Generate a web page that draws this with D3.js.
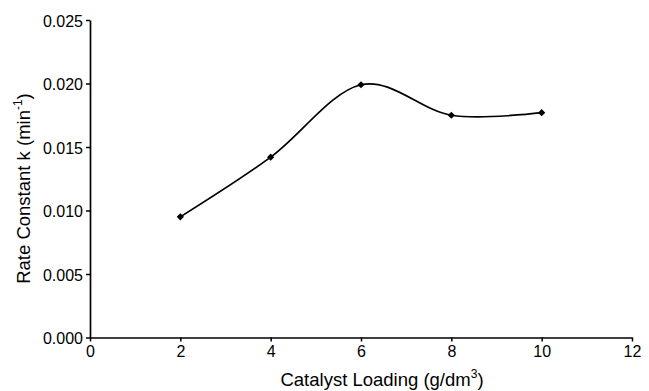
<!DOCTYPE html>
<html>
<head>
<meta charset="utf-8">
<script src="https://cdn.jsdelivr.net/npm/d3@7/dist/d3.min.js"></script>
<style>
  html, body { margin: 0; padding: 0; background: #fff; }
  svg { display: block; }
  text { font-family: "Liberation Sans", Arial, sans-serif; fill: #000; }
</style>
</head>
<body>
<svg id="chart" width="649" height="391"></svg>
<script>
// Catalyst loading (g/dm3) and the fitted rate constant k (1/min)
const loading = [2, 4, 6, 8, 10];
const rateK = [0.0095, 0.0142, 0.0199, 0.0175, 0.0177];
const xTicks = [0, 2, 4, 6, 8, 10, 12];
const yTicks = [0, 0.005, 0.010, 0.015, 0.020, 0.025];

const svg = d3.select("#chart");
const margin = { left: 90, right: 17, top: 20, bottom: 53.5 };
const W = 649, H = 391;

const x = d3.scaleLinear().domain([0, 12]).range([margin.left, W - margin.right]);
const y = d3.scaleLinear().domain([0, 0.025]).range([H - margin.bottom, margin.top]);

// axes
const xAxis = d3.axisBottom(x).tickValues(xTicks).tickFormat(d3.format("d"))
  .tickSize(4).tickSizeOuter(0).tickPadding(4);
const yAxis = d3.axisLeft(y).tickValues(yTicks).tickFormat(d3.format(".3f"))
  .tickSize(4).tickSizeOuter(0).tickPadding(3);

const gx = svg.append("g").attr("transform", `translate(0,${y(0)})`).call(xAxis);
const gy = svg.append("g").attr("transform", `translate(${x(0)},0)`).call(yAxis);

[gx, gy].forEach(g => {
  g.select(".domain").attr("stroke", "#000").attr("stroke-width", 1.7);
  g.selectAll(".tick line").attr("stroke", "#000").attr("stroke-width", 1.5);
  g.selectAll(".tick text")
    .style("font-family", '"Liberation Sans", Arial, sans-serif')
    .style("font-size", "16px").attr("fill", "#000");
});
gy.selectAll(".tick text").attr("dy", "0.4em");

// smoothed line through the measurements
const line = d3.line()
  .x((d, i) => x(loading[i]))
  .y(d => y(d))
  .curve(d3.curveCardinal.tension(0));

svg.append("path")
  .datum(rateK)
  .attr("d", line)
  .attr("fill", "none")
  .attr("stroke", "#000")
  .attr("stroke-width", 1.7);

// diamond markers
svg.append("g").selectAll("path")
  .data(rateK)
  .join("path")
  .attr("d", d3.symbol(d3.symbolSquare, 26))
  .attr("transform", (d, i) => `translate(${x(loading[i])},${y(d)}) rotate(45)`)
  .attr("fill", "#000");

// x axis title
const xt = svg.append("text")
  .attr("x", 382)
  .attr("y", 386)
  .attr("text-anchor", "middle")
  .style("font-size", "18.5px");
xt.append("tspan").text("Catalyst Loading (g/dm");
xt.append("tspan").attr("dy", -8).style("font-size", "12px").text("3");
xt.append("tspan").attr("dy", 8).text(")");

// y axis title
const yt = svg.append("text")
  .attr("transform", "translate(30,188.5) rotate(-90)")
  .attr("text-anchor", "middle")
  .style("font-size", "18.5px");
yt.append("tspan").text("Rate Constant k (min");
yt.append("tspan").attr("dy", -8).style("font-size", "12px").text("-1");
yt.append("tspan").attr("dy", 8).text(")");
</script>
</body>
</html>
